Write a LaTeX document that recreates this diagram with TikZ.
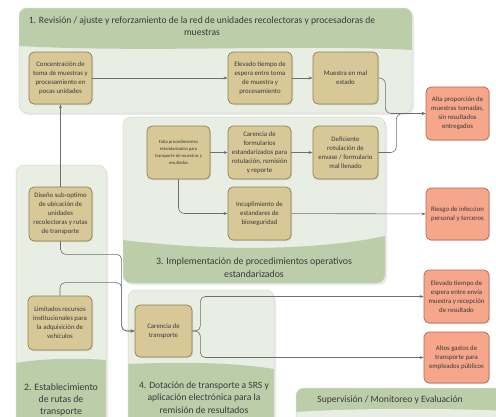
\documentclass[tikz,border=0pt]{standalone}
\usepackage{fontspec}
\setmainfont{Carlito}
\usetikzlibrary{arrows.meta,calc,shadows}
\definecolor{hdr}{HTML}{BBCDA9}
\definecolor{pane}{HTML}{E8EEE3}
\definecolor{paneedge}{HTML}{D3DBCC}
\definecolor{tanfill}{HTML}{D8C897}
\definecolor{tanedge}{HTML}{8E7F55}
\definecolor{redfill}{HTML}{F5A68B}
\definecolor{rededge}{HTML}{B9664F}
\definecolor{linec}{HTML}{6E6E6E}
\definecolor{txt}{HTML}{3A3A3A}
\tikzset{
  box/.style={draw=tanedge, fill=tanfill, rounded corners=5pt, line width=0.7pt,
    minimum width=63pt, minimum height=52pt, align=center, text=txt,
    font=\fontsize{6.8}{9}\selectfont, inner sep=1pt,
    drop shadow={shadow xshift=1pt, shadow yshift=-1pt, opacity=0.25}},
  redbox/.style={box, draw=rededge, fill=redfill},
  arr/.style={draw=linec, line width=0.6pt, -{Stealth[length=4pt,width=3pt]}},
  ttl/.style={font=\fontsize{9.6}{12}\selectfont, text=txt, align=center},
  panelshadow/.style={fill=black, opacity=0.08, rounded corners=8pt},
}
\begin{document}
\begin{tikzpicture}[x=1pt,y=-1pt]
\useasboundingbox (0,0) rectangle (496,416);
\fill[white] (0,0) rectangle (496,416);

% ---------- Panel 1 ----------
\fill[panelshadow] (21,10) rectangle (414,115);
\begin{scope}
\clip[rounded corners=8pt] (19,8) rectangle (412,113);
\fill[pane] (19,8) rectangle (412,113);
\fill[hdr] (19,8) -- (412,8) -- (412,50) .. controls (300,44) and (150,53) .. (19,46) -- cycle;
\end{scope}
\draw[paneedge, line width=0.5pt, rounded corners=8pt] (19,8) rectangle (412,113);
\node[ttl] (t1) at (202,26) {1. Revisión / ajuste y reforzamiento de la red de unidades recolectoras y procesadoras de\\muestras};

% ---------- Panel 3 ----------
\fill[panelshadow] (125,119) rectangle (387,285);
\begin{scope}
\clip[rounded corners=8pt] (123,117) rectangle (385,283);
\fill[pane] (123,117) rectangle (385,283);
\fill[hdr] (123,240) .. controls (220,252) and (320,250) .. (385,236) -- (385,283) -- (123,283) -- cycle;
\end{scope}
\draw[paneedge, line width=0.5pt, rounded corners=8pt] (123,117) rectangle (385,283);
\node[ttl, font=\fontsize{9.8}{13}\selectfont] (t3) at (254,268) {3. Implementación de procedimientos operativos\\estandarizados};

% ---------- Panel 2 ----------
\fill[panelshadow] (18,167) rectangle (108,430);
\begin{scope}
\clip[rounded corners=8pt] (16,165) rectangle (106,430);
\fill[pane] (16,165) rectangle (106,430);
\fill[hdr] (16,363) .. controls (45,358) and (80,358) .. (106,360) -- (106,430) -- (16,430) -- cycle;
\end{scope}
\draw[paneedge, line width=0.5pt, rounded corners=8pt] (16,165) rectangle (106,430);
\node[ttl, font=\fontsize{9.8}{12}\selectfont] (t2) at (61,400) {2. Establecimiento\\de rutas de\\transporte};

% ---------- Panel 4 ----------
\fill[panelshadow] (130,292) rectangle (276,430);
\begin{scope}
\clip[rounded corners=8pt] (128,290) rectangle (274,430);
\fill[pane] (128,290) rectangle (274,430);
\fill[hdr] (128,364) .. controls (180,362) and (230,362) .. (274,369) -- (274,430) -- (128,430) -- cycle;
\end{scope}
\draw[paneedge, line width=0.5pt, rounded corners=8pt] (128,290) rectangle (274,430);
\node[ttl, font=\fontsize{9.6}{12.5}\selectfont] (t4) at (204,397.5) {4. Dotación de transporte a SRS y\\aplicación electrónica para la\\remisión de resultados};

% ---------- Supervision panel ----------
\fill[panelshadow] (298,390) rectangle (510,430);
\begin{scope}
\clip[rounded corners=8pt] (296,388) rectangle (510,430);
\fill[hdr] (296,388) rectangle (510,430);
\fill[pane] (296,412) .. controls (360,408) and (440,408) .. (510,411) -- (510,430) -- (296,430) -- cycle;
\end{scope}
\draw[paneedge, line width=0.5pt, rounded corners=8pt] (296,388) rectangle (510,430);
\node[ttl] (t5) at (390,400) {Supervisión / Monitoreo y Evaluación};

% ---------- Nodes ----------
\node[box] (conc) at (60.5,78) {Concentración de\\toma de muestras y\\procesamiento en\\pocas unidades};
\node[box, minimum width=64pt] (elev) at (260,78) {Elevado tiempo de\\espera entre toma\\de muestra y\\procesamiento};
\node[box, minimum width=65pt] (mues) at (345.5,78) {Muestra en mal\\estado};
\node[redbox, minimum height=53pt] (alta) at (457.5,113.5) {Alta proporción de\\muestras tomadas,\\sin resultados\\entregados};

\node[box, minimum height=53pt, font=\fontsize{4.6}{7}\selectfont] (falta) at (178.5,152.5) {Falta procedimientos\\estandarizados para\\transporte de muestras y\\resultados};
\node[box, minimum height=53pt] (carf) at (259.5,152.5) {Carencia de\\formularios\\estandarizados para\\rotulación, remisión\\y reporte};
\node[box, minimum width=65pt, minimum height=53pt] (defi) at (345.5,152.5) {Deficiente\\rotulación de\\envase / formulario\\mal llenado};
\node[box, minimum height=53pt] (incu) at (259.5,213.5) {Incuplimiento de\\estandares de\\bioseguridad};
\node[redbox] (ries) at (457.5,214) {Riesgo de infeccion\\personal y terceros};

\node[box, minimum height=54pt] (dise) at (60.5,214) {Diseño sub-optimo\\de ubicación de\\unidades\\recolectoras y rutas\\de transporte};
\node[box, minimum width=64pt, minimum height=54pt] (limi) at (60,323) {Limitados recursos\\institucionales para\\la adquisición de\\vehículos};
\node[box, minimum width=57pt] (cart) at (163.5,331) {Carencia de\\transporte};
\node[redbox, minimum width=65pt, minimum height=53pt] (elev2) at (456.5,296.5) {Elevado tiempo de\\espera entre envía\\muestra y recepción\\de resultado};
\node[redbox, minimum width=65pt, minimum height=51pt] (alto) at (456.5,357.5) {Altos gastos de\\transporte para\\empleados públicos};

% ---------- Connectors ----------
\draw[arr] (conc) -- (elev);
\draw[arr] (elev) -- (mues);
\draw[arr, rounded corners=6pt] (mues.east) -- ++(7,0) |- (alta.west);
\draw[arr, rounded corners=6pt] (defi.east) -- ++(18,0) |- (alta.west);
\draw[arr] (falta) -- (carf);
\draw[arr] (carf) -- (defi);
\draw[arr, rounded corners=6pt] (falta.south) |- (incu.west);
\draw[arr] (incu) -- (ries);
\draw[arr] (dise) -- (conc);
\draw[arr, rounded corners=5pt] (dise.south) -- ++(0,13) -| ($(cart.west)+(-13,0)$) -- (cart.west);
\draw[arr, rounded corners=5pt] (limi.north) -- ++(0,-13) -| ($(cart.west)+(-13,0)$) -- (cart.west);
\draw[arr, rounded corners=5pt] (cart.east) -- ++(8,0) |- (elev2.west);
\draw[arr, rounded corners=5pt] (cart.east) -- ++(8,0) |- (alto.west);
\end{tikzpicture}
\end{document}
